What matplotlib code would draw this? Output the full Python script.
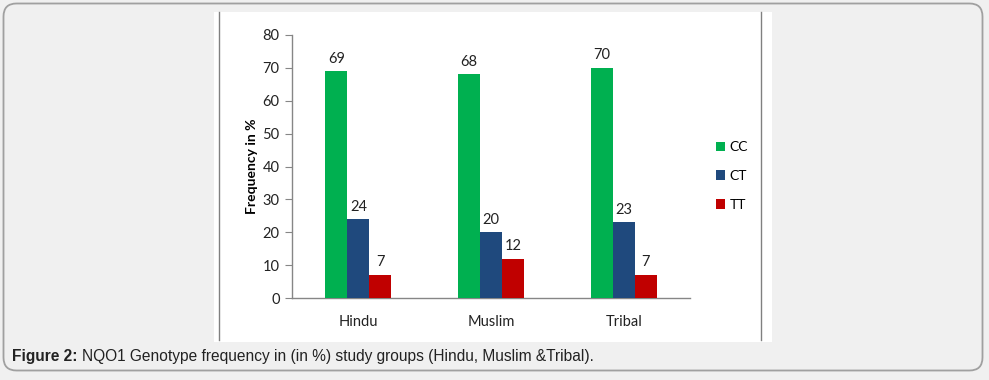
import matplotlib
matplotlib.use("Agg")
import matplotlib.pyplot as plt
import numpy as np
from matplotlib.patches import FancyBboxPatch, Rectangle
from matplotlib.lines import Line2D

categories = ["Hindu", "Muslim", "Tribal"]
series_names = ["CC", "CT", "TT"]
cc = [69, 68, 70]
ct = [24, 20, 23]
tt = [7, 12, 7]
colors = ["#00b050", "#1f497d", "#c00000"]
yticks = [0, 10, 20, 30, 40, 50, 60, 70, 80]

W, H = 989, 380
dpi = 100
fig = plt.figure(figsize=(W / dpi, H / dpi), dpi=dpi)
fig.patch.set_facecolor("#f0f0f0")

def px(x0, y0, x1, y1):
    return [x0 / W, 1 - y1 / H, (x1 - x0) / W, (y1 - y0) / H]

# outer rounded border (in inches)
border = FancyBboxPatch((3.5 / dpi, (H - 370.5) / dpi), (982.5 - 3.5) / dpi, (370.5 - 3.5) / dpi,
                        boxstyle="round,pad=0,rounding_size=0.13",
                        transform=fig.dpi_scale_trans, facecolor="#f0f0f0",
                        edgecolor="#a0a0a0", linewidth=1.3, zorder=0)
fig.patches.append(border)

# white panel
fig.patches.append(Rectangle((214 / W, 1 - 342 / H), (772 - 214) / W, (342 - 12) / H,
                             transform=fig.transFigure, facecolor="white",
                             edgecolor="none", zorder=1))
for xl in (219, 761):
    fig.lines.append(Line2D([xl / W, xl / W], [1 - 340 / H, 1 - 12 / H],
                            transform=fig.transFigure, color="#808080", lw=1.0, zorder=2))

ax = fig.add_axes(px(292, 35, 690, 298))
ax.set_zorder(5)
ax.set_facecolor("none")
x = np.arange(len(categories))
bw = 0.166
for i, (vals, name, col) in enumerate(zip([cc, ct, tt], series_names, colors)):
    pos = x + (i - 1) * bw
    ax.bar(pos, vals, width=bw, color=col, label=name, zorder=3)
    for p, v in zip(pos, vals):
        ax.annotate(str(v), (p, v), xytext=(0, 4), textcoords="offset points",
                    ha="center", va="bottom", fontsize=10.5, family="Lato", color="#222222")

ax.set_xlim(-0.5, 2.5)
ax.set_ylim(0, 80)
ax.set_yticks(yticks)
ax.set_xticks(x)
ax.set_xticklabels(categories)
for s in ("top", "right"):
    ax.spines[s].set_visible(False)
for s in ("left", "bottom"):
    ax.spines[s].set_color("#868686")
    ax.spines[s].set_linewidth(1.0)
ax.tick_params(axis="y", length=5, color="#868686", labelsize=10.5, pad=4)
ax.tick_params(axis="x", length=0, labelsize=10.5, pad=12)
for lab in ax.get_xticklabels() + ax.get_yticklabels():
    lab.set_family("Lato")
    lab.set_color("#222222")
ax.set_ylabel("Frequency in %", fontsize=10, fontweight="bold", family="Lato", labelpad=3)

leg = ax.legend(loc="center left", bbox_to_anchor=(703 / W, 1 - 176 / H),
                bbox_transform=fig.transFigure, frameon=False, handlelength=0.7,
                handleheight=0.7, handletextpad=0.3, labelspacing=1.2,
                prop={"family": "Lato", "size": 10})

t1 = fig.text(12 / W, 1 - 357 / H, "Figure 2:", fontsize=11.2, fontweight="bold",
              family="Liberation Sans", va="center", ha="left", color="#222222")
fig.canvas.draw()
bb = t1.get_window_extent()
fig.text(bb.x1 / W + 4 / W, 1 - 357 / H,
         "NQO1 Genotype frequency in (in %) study groups (Hindu, Muslim &Tribal).",
         fontsize=11.2, family="Liberation Sans", va="center", ha="left", color="#222222")

fig.savefig("out.png", dpi=dpi, facecolor=fig.get_facecolor())
